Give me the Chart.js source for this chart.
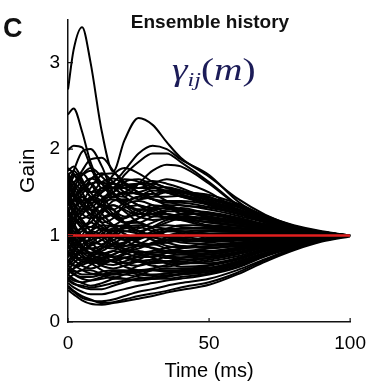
<!doctype html>
<html>
<head>
<meta charset="utf-8">
<title>Ensemble history</title>
<script src="https://cdn.jsdelivr.net/npm/chart.js"></script>
<style>
    body { margin: 0; background: #fff; }
    #wrap { position: relative; width: 376px; height: 386px; }
    .panel { position: absolute; left: 3px; top: 13px; font: bold 27px "Liberation Sans", Arial, sans-serif; color: #111; }
    .title { position: absolute; left: 110px; width: 200px; top: 11px; text-align: center; font: bold 19px "Liberation Sans", Arial, sans-serif; color: #111; white-space: nowrap; }
    .formula { position: absolute; left: 172px; top: 52px; font: italic 31px "Liberation Serif", "DejaVu Serif", serif; color: #1c1c58; transform: scaleX(1.27); transform-origin: left top; white-space: nowrap; }
    .formula sub { font-size: 19px; vertical-align: -6px; }
    .formula .up { font-style: normal; }
</style>
</head>
<body>
<div id="wrap">
    <canvas id="myChart" width="376" height="386"></canvas>
    <div class="panel">C</div>
    <div class="title">Ensemble history</div>
    <div class="formula">γ<sub>ij</sub><span class="up">(</span>m<span class="up">)</span></div>
</div>

<script>
    // sample times (ms) of every curve
    var times = [0, 2, 5, 8, 12, 16, 20, 25, 30, 35, 40, 50, 60, 70, 80, 90, 100];

    // gain curves, grouped by level
    var peakCurves = [
        [2.69, 3.15, 3.41, 3.0, 2.2, 1.74, 2.1, 2.36, 2.28, 2.08, 1.9, 1.68, 1.43, 1.24, 1.11, 1.03, 1.0],
        [2.4, 2.47, 2.2, 1.85, 1.6, 1.62, 1.75, 1.95, 2.04, 2.0, 1.88, 1.7, 1.4, 1.2, 1.08, 1.02, 1.0],
        [1.99, 2.04, 2.02, 1.8, 1.55, 1.55, 1.7, 1.85, 1.95, 1.95, 1.85, 1.62, 1.36, 1.19, 1.08, 1.02, 1.0],
        [1.6, 1.75, 1.97, 2.0, 1.8, 1.5, 1.45, 1.6, 1.75, 1.82, 1.8, 1.6, 1.35, 1.18, 1.07, 1.02, 1.0],
        [1.5, 1.6, 1.75, 1.88, 1.9, 1.75, 1.6, 1.55, 1.6, 1.65, 1.62, 1.5, 1.3, 1.15, 1.06, 1.02, 1.0],
        [1.75, 1.8, 1.65, 1.45, 1.5, 1.7, 1.78, 1.72, 1.62, 1.55, 1.52, 1.45, 1.3, 1.16, 1.06, 1.02, 1.0]
    ];
    var upperCurves = [
        [1.78, 1.72, 1.55, 1.5, 1.62, 1.66, 1.6, 1.55, 1.55, 1.52, 1.5, 1.47, 1.37, 1.23, 1.12, 1.05, 1.0],
        [1.7, 1.62, 1.7, 1.75, 1.6, 1.45, 1.5, 1.6, 1.63, 1.6, 1.55, 1.42, 1.33, 1.21, 1.11, 1.04, 1.0],
        [1.55, 1.68, 1.72, 1.6, 1.45, 1.5, 1.62, 1.65, 1.58, 1.5, 1.45, 1.38, 1.3, 1.19, 1.1, 1.04, 1.0],
        [1.65, 1.5, 1.4, 1.55, 1.7, 1.72, 1.62, 1.5, 1.42, 1.4, 1.4, 1.36, 1.28, 1.18, 1.1, 1.04, 1.0],
        [1.4, 1.55, 1.7, 1.78, 1.68, 1.55, 1.48, 1.5, 1.55, 1.56, 1.52, 1.4, 1.3, 1.18, 1.09, 1.03, 1.0],
        [1.72, 1.6, 1.45, 1.38, 1.42, 1.55, 1.65, 1.62, 1.5, 1.4, 1.35, 1.32, 1.25, 1.16, 1.08, 1.03, 1.0],
        [1.5, 1.45, 1.52, 1.65, 1.72, 1.62, 1.5, 1.42, 1.45, 1.5, 1.48, 1.35, 1.26, 1.16, 1.08, 1.03, 1.0],
        [1.68, 1.55, 1.4, 1.3, 1.35, 1.45, 1.5, 1.48, 1.42, 1.38, 1.38, 1.33, 1.26, 1.17, 1.09, 1.03, 1.0],
        [1.5, 1.38, 1.25, 1.2, 1.28, 1.35, 1.3, 1.22, 1.18, 1.2, 1.25, 1.25, 1.19, 1.12, 1.06, 1.02, 1.0],
        [1.45, 1.6, 1.5, 1.3, 1.15, 1.2, 1.35, 1.4, 1.35, 1.25, 1.2, 1.12, 1.09, 1.06, 1.03, 1.01, 1.0],
        [1.62, 1.7, 1.6, 1.45, 1.4, 1.5, 1.58, 1.6, 1.56, 1.5, 1.46, 1.42, 1.34, 1.21, 1.11, 1.04, 1.0],
        [1.45, 1.4, 1.48, 1.6, 1.62, 1.55, 1.55, 1.6, 1.6, 1.55, 1.5, 1.44, 1.35, 1.22, 1.11, 1.04, 1.0],
        [1.58, 1.48, 1.38, 1.42, 1.55, 1.6, 1.55, 1.48, 1.48, 1.52, 1.5, 1.4, 1.31, 1.19, 1.1, 1.03, 1.0],
        [1.3, 1.42, 1.58, 1.66, 1.6, 1.48, 1.4, 1.45, 1.52, 1.5, 1.45, 1.36, 1.28, 1.17, 1.09, 1.03, 1.0],
        [1.7, 1.75, 1.62, 1.5, 1.52, 1.6, 1.58, 1.5, 1.45, 1.45, 1.46, 1.38, 1.29, 1.18, 1.09, 1.03, 1.0]
    ];
    var middleUpperCurves = [
        [1.6, 1.45, 1.3, 1.35, 1.5, 1.55, 1.45, 1.35, 1.32, 1.35, 1.35, 1.3, 1.23, 1.15, 1.08, 1.03, 1.0],
        [1.35, 1.5, 1.62, 1.5, 1.35, 1.3, 1.38, 1.45, 1.42, 1.35, 1.3, 1.27, 1.21, 1.13, 1.07, 1.02, 1.0],
        [1.45, 1.3, 1.25, 1.4, 1.55, 1.48, 1.35, 1.25, 1.25, 1.3, 1.32, 1.25, 1.2, 1.13, 1.07, 1.02, 1.0],
        [1.25, 1.4, 1.55, 1.6, 1.45, 1.3, 1.22, 1.25, 1.32, 1.35, 1.3, 1.22, 1.17, 1.11, 1.06, 1.02, 1.0],
        [1.55, 1.35, 1.15, 1.1, 1.25, 1.4, 1.42, 1.35, 1.25, 1.2, 1.22, 1.2, 1.16, 1.1, 1.05, 1.02, 1.0],
        [1.3, 1.2, 1.3, 1.45, 1.4, 1.25, 1.15, 1.2, 1.3, 1.32, 1.25, 1.18, 1.14, 1.09, 1.05, 1.02, 1.0],
        [1.15, 1.3, 1.45, 1.38, 1.2, 1.12, 1.2, 1.3, 1.28, 1.2, 1.18, 1.16, 1.12, 1.08, 1.04, 1.01, 1.0],
        [1.4, 1.25, 1.1, 1.15, 1.3, 1.35, 1.28, 1.15, 1.1, 1.15, 1.2, 1.15, 1.12, 1.08, 1.04, 1.01, 1.0],
        [1.1, 0.95, 1.0, 1.2, 1.35, 1.3, 1.15, 1.05, 1.1, 1.18, 1.2, 1.15, 1.11, 1.07, 1.04, 1.01, 1.0],
        [1.35, 1.42, 1.35, 1.22, 1.1, 1.05, 1.1, 1.2, 1.25, 1.25, 1.22, 1.2, 1.15, 1.1, 1.05, 1.02, 1.0],
        [1.0, 1.15, 1.3, 1.35, 1.25, 1.12, 1.05, 1.08, 1.15, 1.2, 1.18, 1.1, 1.08, 1.05, 1.03, 1.01, 1.0],
        [1.48, 1.35, 1.28, 1.32, 1.42, 1.45, 1.38, 1.3, 1.3, 1.32, 1.3, 1.26, 1.2, 1.12, 1.06, 1.02, 1.0],
        [1.22, 1.3, 1.4, 1.42, 1.32, 1.22, 1.2, 1.28, 1.35, 1.33, 1.28, 1.22, 1.16, 1.1, 1.05, 1.02, 1.0],
        [1.38, 1.28, 1.2, 1.25, 1.38, 1.42, 1.35, 1.28, 1.22, 1.22, 1.25, 1.24, 1.18, 1.11, 1.06, 1.02, 1.0],
        [1.05, 1.2, 1.35, 1.42, 1.35, 1.22, 1.15, 1.15, 1.22, 1.28, 1.28, 1.2, 1.15, 1.09, 1.05, 1.02, 1.0],
        [1.62, 1.5, 1.35, 1.25, 1.2, 1.25, 1.32, 1.35, 1.3, 1.25, 1.22, 1.18, 1.14, 1.09, 1.05, 1.02, 1.0]
    ];
    var middleCurves = [
        [1.2, 1.05, 0.95, 1.05, 1.2, 1.25, 1.15, 1.05, 1.02, 1.08, 1.12, 1.12, 1.09, 1.06, 1.03, 1.01, 1.0],
        [0.95, 1.1, 1.25, 1.3, 1.15, 1.0, 0.95, 1.02, 1.1, 1.12, 1.1, 1.08, 1.06, 1.04, 1.02, 1.01, 1.0],
        [1.1, 1.2, 1.12, 0.95, 0.9, 1.0, 1.12, 1.15, 1.08, 1.0, 0.98, 1.02, 1.03, 1.02, 1.01, 1.0, 1.0],
        [0.85, 0.95, 1.1, 1.15, 1.05, 0.92, 0.88, 0.95, 1.05, 1.08, 1.05, 1.0, 0.99, 0.99, 1.0, 1.0, 1.0],
        [1.3, 1.15, 0.98, 0.9, 0.95, 1.08, 1.12, 1.05, 0.95, 0.92, 0.95, 0.97, 0.98, 0.99, 0.99, 1.0, 1.0],
        [1.0, 0.88, 0.82, 0.9, 1.02, 1.08, 1.02, 0.92, 0.9, 0.95, 1.0, 1.05, 1.04, 1.03, 1.02, 1.01, 1.0],
        [0.9, 1.02, 1.08, 1.0, 0.88, 0.85, 0.92, 1.0, 1.02, 0.98, 0.94, 0.93, 0.95, 0.97, 0.98, 0.99, 1.0],
        [1.15, 1.25, 1.18, 1.05, 0.98, 1.02, 1.08, 1.1, 1.05, 1.0, 1.0, 1.05, 1.05, 1.03, 1.02, 1.01, 1.0],
        [0.8, 0.78, 0.85, 0.98, 1.08, 1.05, 0.95, 0.88, 0.9, 0.98, 1.02, 0.98, 0.97, 0.98, 0.99, 1.0, 1.0],
        [1.05, 0.95, 0.9, 0.95, 1.0, 0.95, 0.88, 0.9, 0.98, 1.05, 1.05, 0.96, 0.95, 0.97, 0.98, 0.99, 1.0],
        [0.7, 0.8, 0.95, 1.05, 1.0, 0.88, 0.82, 0.85, 0.92, 0.95, 0.92, 0.9, 0.92, 0.95, 0.97, 0.99, 1.0],
        [1.25, 1.1, 0.95, 0.85, 0.88, 0.98, 1.05, 1.02, 0.95, 0.88, 0.86, 0.88, 0.91, 0.94, 0.97, 0.99, 1.0],
        [0.95, 1.05, 0.98, 0.85, 0.78, 0.82, 0.9, 0.98, 0.98, 0.92, 0.88, 0.86, 0.89, 0.93, 0.96, 0.99, 1.0],
        [0.8, 0.9, 0.88, 0.8, 0.85, 0.95, 0.98, 0.92, 0.85, 0.82, 0.85, 0.92, 0.94, 0.96, 0.98, 0.99, 1.0],
        [1.15, 1.0, 0.88, 0.8, 0.82, 0.9, 0.98, 1.0, 0.98, 0.95, 0.95, 0.94, 0.95, 0.97, 0.98, 0.99, 1.0],
        [1.08, 1.0, 0.98, 1.05, 1.12, 1.1, 1.02, 0.98, 1.0, 1.05, 1.08, 1.08, 1.06, 1.04, 1.02, 1.01, 1.0],
        [0.92, 0.98, 1.05, 1.1, 1.08, 1.0, 0.95, 0.96, 1.02, 1.05, 1.05, 1.02, 1.01, 1.01, 1.0, 1.0, 1.0],
        [1.18, 1.1, 1.0, 0.98, 1.05, 1.12, 1.1, 1.02, 0.98, 1.0, 1.04, 1.06, 1.05, 1.03, 1.02, 1.01, 1.0],
        [0.75, 0.85, 0.98, 1.02, 0.95, 0.9, 0.92, 0.98, 1.0, 0.98, 0.96, 0.95, 0.96, 0.97, 0.98, 0.99, 1.0],
        [1.02, 0.92, 0.85, 0.88, 0.95, 1.0, 0.98, 0.92, 0.9, 0.92, 0.96, 1.0, 1.0, 1.0, 1.0, 1.0, 1.0],
        [1.28, 1.2, 1.08, 1.0, 1.0, 1.05, 1.1, 1.12, 1.1, 1.08, 1.08, 1.1, 1.08, 1.05, 1.03, 1.01, 1.0]
    ];
    var lowerCurves = [
        [0.75, 0.85, 0.95, 0.92, 0.8, 0.75, 0.8, 0.88, 0.9, 0.85, 0.82, 0.85, 0.88, 0.92, 0.96, 0.99, 1.0],
        [0.9, 0.8, 0.72, 0.75, 0.85, 0.9, 0.85, 0.78, 0.75, 0.8, 0.85, 0.88, 0.9, 0.93, 0.96, 0.99, 1.0],
        [0.65, 0.72, 0.82, 0.85, 0.78, 0.7, 0.68, 0.72, 0.8, 0.82, 0.8, 0.78, 0.83, 0.89, 0.94, 0.98, 1.0],
        [0.85, 0.92, 0.88, 0.78, 0.7, 0.72, 0.78, 0.82, 0.78, 0.74, 0.74, 0.8, 0.85, 0.9, 0.95, 0.98, 1.0],
        [0.7, 0.65, 0.68, 0.75, 0.8, 0.75, 0.68, 0.65, 0.7, 0.76, 0.78, 0.75, 0.8, 0.87, 0.93, 0.98, 1.0],
        [1.0, 0.9, 0.78, 0.7, 0.68, 0.72, 0.75, 0.72, 0.68, 0.7, 0.74, 0.78, 0.83, 0.89, 0.94, 0.98, 1.0],
        [0.6, 0.68, 0.75, 0.72, 0.65, 0.62, 0.65, 0.7, 0.72, 0.7, 0.68, 0.72, 0.78, 0.86, 0.92, 0.97, 1.0],
        [0.8, 0.72, 0.65, 0.62, 0.66, 0.72, 0.74, 0.7, 0.65, 0.64, 0.67, 0.7, 0.76, 0.85, 0.92, 0.97, 1.0],
        [0.88, 0.78, 0.7, 0.72, 0.78, 0.82, 0.8, 0.75, 0.76, 0.8, 0.82, 0.82, 0.86, 0.91, 0.95, 0.98, 1.0],
        [0.55, 0.62, 0.7, 0.68, 0.6, 0.55, 0.58, 0.65, 0.7, 0.68, 0.64, 0.66, 0.73, 0.83, 0.91, 0.97, 1.0],
        [0.62, 0.58, 0.6, 0.66, 0.72, 0.7, 0.64, 0.6, 0.62, 0.66, 0.68, 0.68, 0.74, 0.84, 0.91, 0.97, 1.0],
        [0.82, 0.75, 0.72, 0.78, 0.86, 0.88, 0.84, 0.8, 0.82, 0.86, 0.88, 0.86, 0.88, 0.92, 0.96, 0.99, 1.0],
        [0.68, 0.75, 0.8, 0.78, 0.72, 0.7, 0.74, 0.78, 0.78, 0.76, 0.75, 0.76, 0.81, 0.88, 0.94, 0.98, 1.0],
        [0.95, 0.85, 0.75, 0.7, 0.72, 0.78, 0.82, 0.8, 0.74, 0.7, 0.7, 0.74, 0.8, 0.87, 0.93, 0.98, 1.0],
        [0.58, 0.62, 0.66, 0.7, 0.74, 0.76, 0.74, 0.7, 0.68, 0.7, 0.72, 0.74, 0.79, 0.87, 0.93, 0.98, 1.0],
        [0.78, 0.82, 0.8, 0.74, 0.68, 0.66, 0.7, 0.76, 0.8, 0.8, 0.78, 0.8, 0.84, 0.9, 0.95, 0.98, 1.0],
        [1.1, 0.98, 0.85, 0.78, 0.75, 0.78, 0.84, 0.88, 0.86, 0.82, 0.8, 0.82, 0.86, 0.91, 0.95, 0.98, 1.0]
    ];
    var bottomCurves = [
        [0.55, 0.5, 0.45, 0.42, 0.45, 0.5, 0.55, 0.58, 0.6, 0.6, 0.6, 0.62, 0.7, 0.8, 0.89, 0.96, 1.0],
        [0.5, 0.45, 0.4, 0.38, 0.38, 0.42, 0.46, 0.5, 0.52, 0.54, 0.55, 0.58, 0.66, 0.78, 0.88, 0.95, 1.0],
        [0.45, 0.4, 0.35, 0.32, 0.32, 0.35, 0.38, 0.42, 0.45, 0.48, 0.5, 0.55, 0.63, 0.76, 0.86, 0.95, 1.0],
        [0.4, 0.35, 0.28, 0.25, 0.24, 0.26, 0.3, 0.35, 0.38, 0.42, 0.45, 0.5, 0.6, 0.73, 0.85, 0.94, 1.0],
        [0.37, 0.32, 0.25, 0.21, 0.2, 0.22, 0.24, 0.27, 0.3, 0.34, 0.37, 0.43, 0.55, 0.7, 0.83, 0.93, 0.99],
        [0.42, 0.36, 0.3, 0.26, 0.22, 0.23, 0.26, 0.3, 0.33, 0.36, 0.4, 0.46, 0.57, 0.72, 0.84, 0.94, 1.0],
        [0.6, 0.55, 0.5, 0.48, 0.5, 0.52, 0.5, 0.48, 0.5, 0.53, 0.56, 0.6, 0.67, 0.78, 0.88, 0.95, 1.0],
        [0.65, 0.6, 0.55, 0.55, 0.58, 0.6, 0.6, 0.57, 0.55, 0.56, 0.6, 0.65, 0.72, 0.82, 0.9, 0.96, 1.0],
        [0.5, 0.55, 0.6, 0.6, 0.55, 0.5, 0.5, 0.54, 0.6, 0.62, 0.62, 0.63, 0.7, 0.8, 0.89, 0.96, 1.0],
        [0.52, 0.48, 0.46, 0.48, 0.52, 0.55, 0.55, 0.52, 0.5, 0.52, 0.55, 0.58, 0.66, 0.78, 0.88, 0.95, 1.0],
        [0.72, 0.66, 0.6, 0.56, 0.55, 0.56, 0.58, 0.6, 0.6, 0.58, 0.58, 0.62, 0.69, 0.8, 0.89, 0.96, 1.0],
        [0.48, 0.44, 0.42, 0.4, 0.42, 0.45, 0.48, 0.5, 0.5, 0.5, 0.52, 0.56, 0.64, 0.77, 0.87, 0.95, 1.0],
        [0.62, 0.56, 0.52, 0.52, 0.55, 0.58, 0.58, 0.55, 0.54, 0.56, 0.58, 0.6, 0.68, 0.79, 0.88, 0.96, 1.0]
    ];

    // the red reference line at gain 1
    var meanTimes = [0, 100];
    var meanGain = [1, 1];

    var xTicks = [0, 50, 100];
    var yTicks = [0, 1, 2, 3];

    var allCurves = peakCurves.concat(upperCurves, middleUpperCurves, middleCurves, lowerCurves, bottomCurves);

    var datasets = [{
        data: meanTimes.map(function (t, i) { return {x: t, y: meanGain[i]}; }),
        borderColor: '#e01f1f',
        borderWidth: 2.5,
        pointRadius: 0,
        order: 0
    }];
    allCurves.forEach(function (g) {
        datasets.push({
            data: g.map(function (v, i) { return {x: times[i], y: v}; }),
            borderColor: '#000',
            borderWidth: 2,
            pointRadius: 0,
            cubicInterpolationMode: 'monotone',
            order: 1
        });
    });

    // small tick marks pointing into the plot, like the original
    var innerTicks = {
        id: 'innerTicks',
        afterDraw: function (chart) {
            var c = chart.ctx, xs = chart.scales.x, ys = chart.scales.y;
            var left = chart.chartArea.left, bottom = chart.chartArea.bottom;
            c.save();
            c.strokeStyle = '#111';
            c.lineWidth = 1.2;
            c.beginPath();
            yTicks.forEach(function (v) {
                var y = ys.getPixelForValue(v);
                c.moveTo(left, y); c.lineTo(left + 5, y);
            });
            xTicks.forEach(function (v) {
                var x = xs.getPixelForValue(v);
                c.moveTo(x, bottom); c.lineTo(x, bottom - 4);
            });
            c.stroke();
            c.restore();
        }
    };

    var ctx = document.getElementById('myChart').getContext('2d');
    var chart = new Chart(ctx, {
        type: 'line',
        data: { datasets: datasets },
        options: {
            responsive: false,
            animation: false,
            events: [],
            layout: { padding: { top: 16, right: 24, left: 0, bottom: 0 } },
            plugins: { legend: { display: false }, tooltip: { enabled: false } },
            scales: {
                x: {
                    type: 'linear',
                    min: 0,
                    max: 100,
                    afterBuildTicks: function (s) { s.ticks = xTicks.map(function (v) { return {value: v}; }); },
                    afterFit: function (s) { s.height = 64; },
                    grid: { display: false, drawTicks: false },
                    border: { display: true, color: '#111', width: 1.5 },
                    ticks: { color: '#000', padding: 10, maxRotation: 0, font: { family: 'Liberation Sans', size: 19 } },
                    title: { display: true, text: 'Time (ms)', color: '#000', padding: { top: 0, bottom: 3 }, font: { family: 'Liberation Sans', size: 20 } }
                },
                y: {
                    min: 0,
                    max: 3.5,
                    afterBuildTicks: function (s) { s.ticks = yTicks.map(function (v) { return {value: v}; }); },
                    afterFit: function (s) { s.width = 68; },
                    grid: { display: false, drawTicks: false },
                    border: { display: true, color: '#111', width: 1.5 },
                    ticks: { color: '#000', padding: 8, font: { family: 'Liberation Sans', size: 19 } },
                    title: { display: true, text: 'Gain', color: '#000', padding: { top: 16, bottom: 0 }, font: { family: 'Liberation Sans', size: 21 } }
                }
            }
        },
        plugins: [innerTicks]
    });
</script>
</body>
</html>
